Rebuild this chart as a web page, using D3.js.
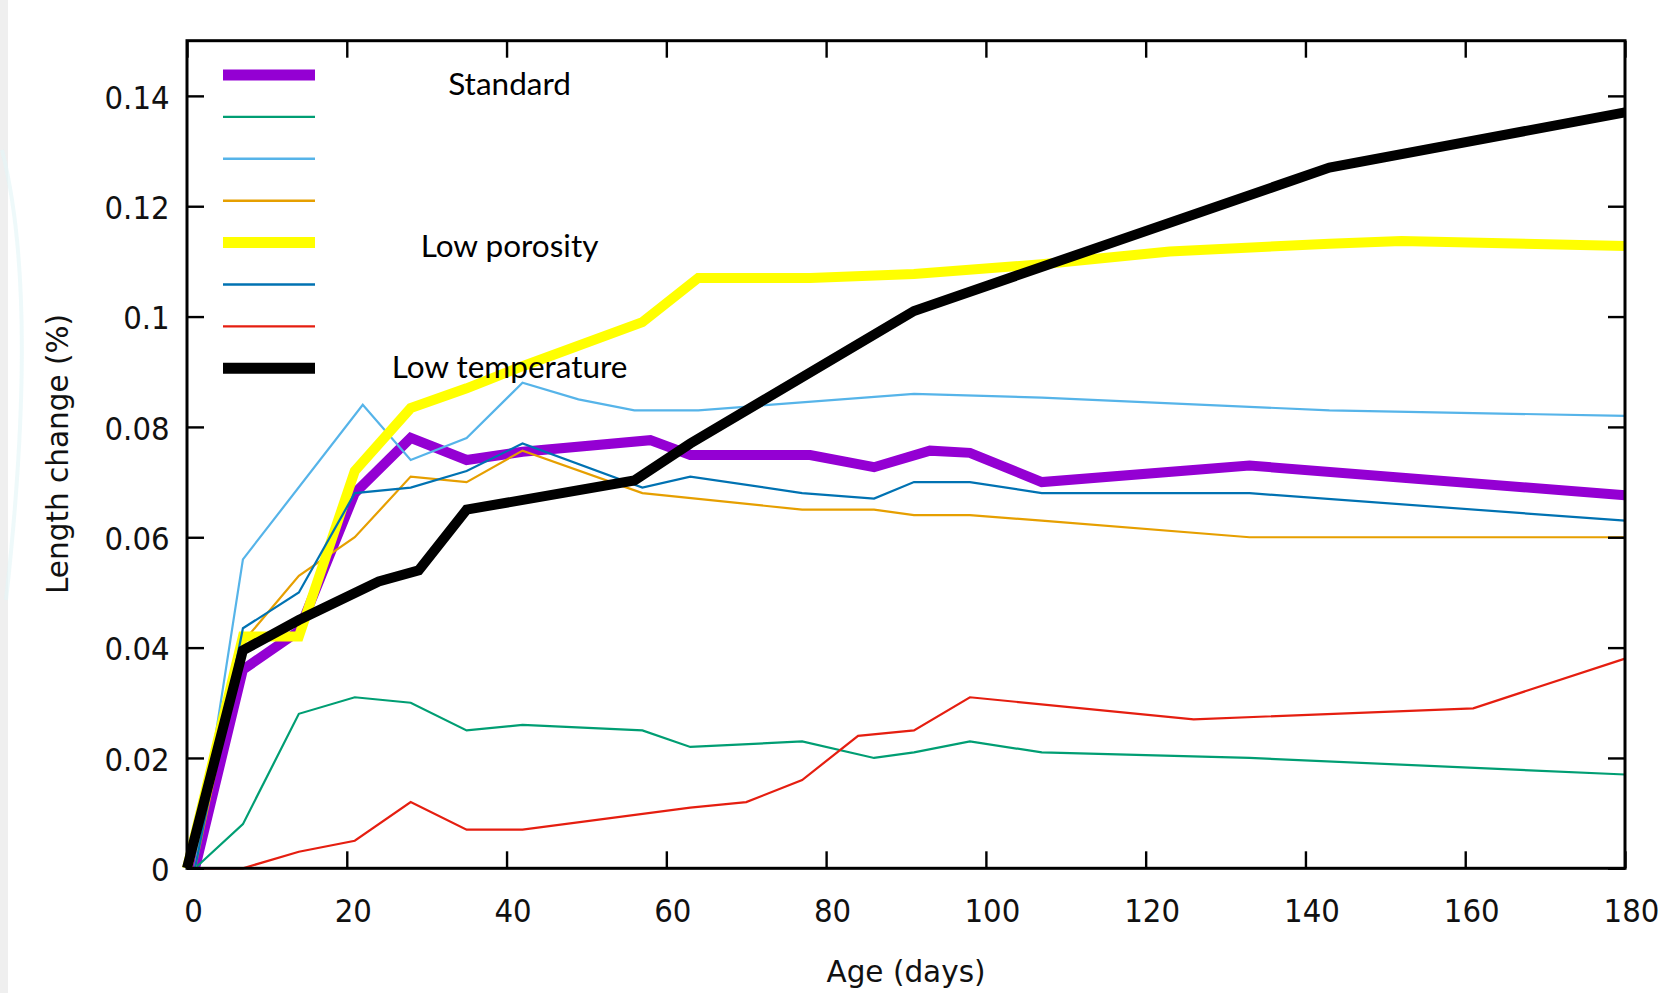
<!DOCTYPE html>
<html>
<head>
<meta charset="utf-8">
<script src="https://cdn.jsdelivr.net/npm/d3@7"></script>
<style>
  html, body { margin: 0; padding: 0; background: #ffffff; }
  svg { display: block; }
  .tick-label { font-family: "DejaVu Sans Condensed", "DejaVu Sans", sans-serif; font-stretch: condensed; font-size: 32.5px; fill: #111; }
  .axis-title { font-family: "DejaVu Sans", sans-serif; font-size: 29.5px; fill: #111; }
  .legend-label { font-family: Lato, "Open Sans", sans-serif; font-size: 31.5px; fill: #000; }
</style>
</head>
<body>
<svg id="chart" width="1665" height="993"></svg>
<script>
// ---- Data: length change (%) against age (days) for each mix ----
const seriesNames  = ["Standard", "", "", "", "Low porosity", "", "", "Low temperature"];
const seriesColors = ["#9400d3", "#009e73", "#56b4e9", "#e69f00", "#ffff00", "#0072b2", "#e51e10", "#000000"];
const seriesThick  = [true, false, false, false, true, false, false, true];

const standardAge = [1, 7, 14, 21, 28, 35, 42, 58, 63, 78, 86, 93, 98, 107, 133, 180];
const standardVal = [0, 0.036, 0.043, 0.068, 0.078, 0.074, 0.0755, 0.0776, 0.0749, 0.0749, 0.0727, 0.0757, 0.0753, 0.070, 0.073, 0.0676];

const greenAge = [1, 7, 14, 21, 28, 35, 42, 57, 63, 77, 86, 91, 98, 107, 133, 180];
const greenVal = [0, 0.008, 0.028, 0.031, 0.030, 0.025, 0.026, 0.025, 0.022, 0.023, 0.020, 0.021, 0.023, 0.021, 0.020, 0.017];

const skyAge = [1, 7, 22, 28, 35, 42, 49, 56, 64, 91, 107, 143, 180];
const skyVal = [0, 0.056, 0.084, 0.074, 0.078, 0.088, 0.085, 0.083, 0.083, 0.086, 0.0853, 0.083, 0.082];

const orangeAge = [1, 7, 14, 21, 28, 35, 42, 57, 77, 86, 91, 98, 107, 133, 180];
const orangeVal = [0, 0.041, 0.053, 0.060, 0.071, 0.070, 0.0757, 0.068, 0.065, 0.065, 0.064, 0.064, 0.063, 0.060, 0.060];

const lowPorosityAge = [0, 7, 14, 21, 28, 35, 42, 57, 64, 78, 91, 107, 123, 143, 152, 180];
const lowPorosityVal = [0, 0.042, 0.042, 0.072, 0.0834, 0.087, 0.091, 0.099, 0.107, 0.107, 0.1077, 0.1095, 0.1118, 0.1132, 0.1137, 0.1128];

const blueAge = [1, 7, 14, 21, 28, 35, 42, 57, 63, 77, 86, 91, 98, 107, 133, 180];
const blueVal = [0, 0.0435, 0.050, 0.068, 0.069, 0.072, 0.077, 0.069, 0.071, 0.068, 0.067, 0.070, 0.070, 0.068, 0.068, 0.063];

const redAge = [1, 7, 14, 21, 28, 35, 42, 63, 70, 77, 84, 91, 98, 126, 161, 180];
const redVal = [0, 0, 0.003, 0.005, 0.012, 0.007, 0.007, 0.011, 0.012, 0.016, 0.024, 0.025, 0.031, 0.027, 0.029, 0.038];

const lowTempAge = [0, 7, 14, 24, 29, 35, 56, 63, 91, 143, 180];
const lowTempVal = [0, 0.0395, 0.045, 0.052, 0.054, 0.065, 0.0703, 0.077, 0.101, 0.127, 0.137];

const xTicks = [0, 20, 40, 60, 80, 100, 120, 140, 160, 180];
const yTicks = [0, 0.02, 0.04, 0.06, 0.08, 0.1, 0.12, 0.14];
const yTickLabels = ["0", "0.02", "0.04", "0.06", "0.08", "0.1", "0.12", "0.14"];

const seriesAges = [standardAge, greenAge, skyAge, orangeAge, lowPorosityAge, blueAge, redAge, lowTempAge];
const seriesVals = [standardVal, greenVal, skyVal, orangeVal, lowPorosityVal, blueVal, redVal, lowTempVal];

// ---- Layout ----
const svg = d3.select("#chart");
const plot = { left: 187, right: 1625, top: 40.7, bottom: 868.3 };
const x = d3.scaleLinear().domain([0, 180]).range([plot.left, plot.right]);
const y = d3.scaleLinear().domain([0, 0.15]).range([plot.bottom, plot.top]);

// slide edge behind the figure
svg.append("rect").attr("x", 0).attr("y", 0).attr("width", 8).attr("height", 993).attr("fill", "#efefef");
svg.append("path")
  .attr("d", "M 2 150 C 30 260, 26 420, 6 600")
  .attr("fill", "none").attr("stroke", "#e2f5f7").attr("stroke-width", 4).attr("opacity", 0.6);

// ---- Series lines (drawn in legend order) ----
const line = d3.line().x(d => x(d[0])).y(d => y(d[1]));
const lines = svg.append("g");
seriesAges.forEach((ages, i) => {
  const pts = ages.map((a, j) => [a, seriesVals[i][j]]);
  lines.append("path")
    .datum(pts)
    .attr("d", line)
    .attr("fill", "none")
    .attr("stroke", seriesColors[i])
    .attr("stroke-width", seriesThick[i] ? 10 : 2.2)
    .attr("stroke-linejoin", "miter")
    .attr("stroke-linecap", "butt");
});

// ---- Axes with inward ticks on all four sides ----
const tickLen = 17;
const gx = svg.append("g").attr("transform", `translate(0,${plot.bottom})`)
  .call(d3.axisBottom(x).tickValues(xTicks).tickSize(-tickLen).tickFormat(d3.format("d")));
const gxTop = svg.append("g").attr("transform", `translate(0,${plot.top})`)
  .call(d3.axisTop(x).tickValues(xTicks).tickSize(-tickLen).tickFormat(""));
const gy = svg.append("g").attr("transform", `translate(${plot.left},0)`)
  .call(d3.axisLeft(y).tickValues(yTicks).tickSize(-tickLen).tickFormat((d, i) => yTickLabels[i]));
const gyRight = svg.append("g").attr("transform", `translate(${plot.right},0)`)
  .call(d3.axisRight(y).tickValues(yTicks).tickSize(-tickLen).tickFormat(""));

[gx, gxTop, gy, gyRight].forEach(g => {
  g.select(".domain").remove();
  g.selectAll(".tick line").attr("stroke", "#000").attr("stroke-width", 2.4);
});

gx.selectAll(".tick text")
  .attr("class", "tick-label")
  .attr("x", 6).attr("y", 54).attr("dy", 0)
  .attr("text-anchor", "middle");
gy.selectAll(".tick text")
  .attr("class", "tick-label")
  .attr("x", -17.4).attr("y", 0.5).attr("dy", "0.36em")
  .attr("text-anchor", "end");

// frame
svg.append("rect")
  .attr("x", plot.left).attr("y", plot.top)
  .attr("width", plot.right - plot.left).attr("height", plot.bottom - plot.top)
  .attr("fill", "none").attr("stroke", "#000").attr("stroke-width", 3);

// ---- Axis titles ----
svg.append("text").attr("class", "axis-title")
  .attr("x", 906).attr("y", 982).attr("text-anchor", "middle")
  .text("Age (days)");
svg.append("text").attr("class", "axis-title")
  .attr("transform", "translate(68,454) rotate(-90)")
  .attr("text-anchor", "middle")
  .text("Length change (%)");

// ---- Legend ----
const legend = svg.append("g");
const legendX0 = 223, legendX1 = 315, legendTop = 75, legendGap = 41.9;
const labelX = 509.6;
const labelBaseline = { 0: 95, 4: 257, 7: 378 };
seriesNames.forEach((name, i) => {
  const ly = legendTop + i * legendGap;
  legend.append("line")
    .attr("x1", legendX0).attr("x2", legendX1)
    .attr("y1", ly).attr("y2", ly)
    .attr("stroke", seriesColors[i])
    .attr("stroke-width", seriesThick[i] ? 11 : 2.4);
  if (name) {
    legend.append("text").attr("class", "legend-label")
      .attr("x", labelX).attr("y", labelBaseline[i])
      .attr("text-anchor", "middle")
      .text(name);
  }
});
</script>
</body>
</html>
